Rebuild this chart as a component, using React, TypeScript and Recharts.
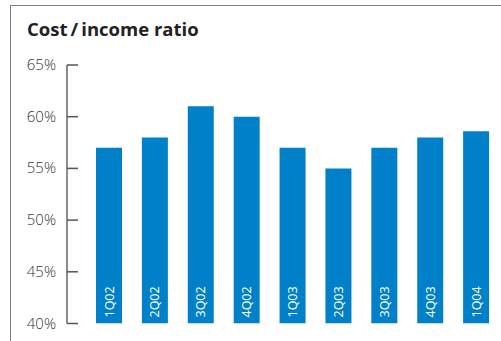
import { BarChart, Bar, XAxis, YAxis, LabelList } from "recharts";

const quarters = ["1Q02", "2Q02", "3Q02", "4Q02", "1Q03", "2Q03", "3Q03", "4Q03", "1Q04"];
const ratios = [57, 58, 61, 60, 57, 55, 57, 58, 58.6];
const yTicks = [40, 45, 50, 55, 60, 65];

const data = quarters.map((q, i) => ({ name: q, value: ratios[i] }));

const font = "'Open Sans', 'Noto Sans', sans-serif";

// tick line points into the plot, label sits left of the axis
const YTick = (props: any) => {
  const { x, y, payload } = props;
  return (
    <g>
      <line x1={x} y1={y} x2={x + 11} y2={y} stroke="#555" strokeWidth={1.5} />
      <text x={x - 11} y={y} dy={5} textAnchor="end" fill="#333" fontSize={15} fontWeight={300} fontFamily={font}>
        {payload.value}%
      </text>
    </g>
  );
};

const BarName = (props: any) => {
  const { x, y, width, height, value } = props;
  const cx = x + width / 2;
  const by = y + height - 6;
  return (
    <text
      x={cx}
      y={by}
      transform={`rotate(-90 ${cx} ${by})`}
      dy={4.5}
      textAnchor="start"
      fill="#fff"
      fontSize={12.5}
      fontFamily={font}
    >
      {value}
    </text>
  );
};

export default function App() {
  return (
    <div style={{ position: "absolute", left: 0, top: 0, width: 501, height: 341, background: "#fff" }}>
      <div
        style={{
          position: "absolute",
          left: 10,
          top: 5,
          right: 0,
          bottom: 0,
          borderTop: "1.5px solid #808080",
          borderLeft: "1.5px solid #808080",
        }}
      />
      <div
        style={{
          position: "absolute",
          left: 27,
          top: 16,
          fontFamily: font,
          fontWeight: 700,
          fontSize: 18.5,
          color: "#222",
        }}
      >
        {"Cost\u2009/\u2009income ratio"}
      </div>
      <div style={{ position: "absolute", left: 0, top: 0 }}>
        <BarChart width={501} height={341} data={data} margin={{ top: 65, right: 2, bottom: 17.5, left: 0 }}>
          <XAxis
            dataKey="name"
            tick={false}
            tickLine={false}
            height={0}
            padding={{ left: 19, right: 0 }}
            axisLine={{ stroke: "#444", strokeWidth: 2 }}
          />
          <YAxis
            domain={[40, 65]}
            ticks={yTicks}
            width={67}
            tickLine={false}
            tickSize={0}
            tickMargin={0}
            tick={<YTick />}
            axisLine={{ stroke: "#666", strokeWidth: 1.5 }}
            allowDataOverflow
          />
          <Bar dataKey="value" fill="#0080C8" barSize={26} isAnimationActive={false}>
            <LabelList dataKey="name" content={<BarName />} />
          </Bar>
        </BarChart>
      </div>
    </div>
  );
}
